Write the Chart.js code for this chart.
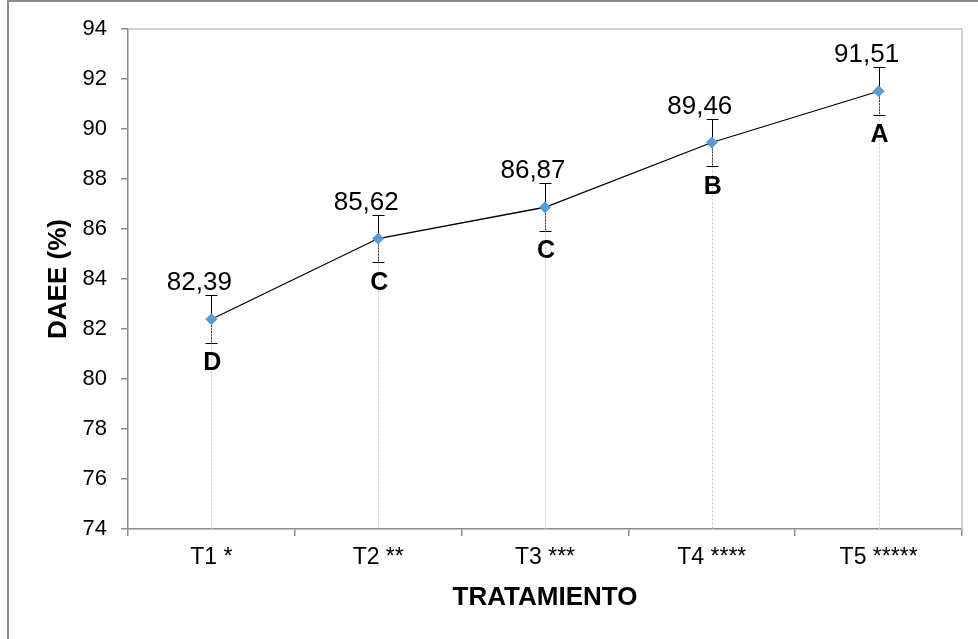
<!DOCTYPE html>
<html>
<head>
<meta charset="utf-8">
<script src="https://cdn.jsdelivr.net/npm/chart.js@4"></script>
<style>
html,body{margin:0;padding:0;background:#fff;}
#wrap{width:978px;height:639px;}
</style>
</head>
<body>
<div id="wrap"><canvas id="c" width="978" height="639"></canvas></div>
<script>
const categories = ["T1 *", "T2 **", "T3 ***", "T4 ****", "T5 *****"];
const values = [82.39, 85.62, 86.87, 89.46, 91.51];
const errors = [0.95, 0.95, 0.95, 0.95, 0.95];
const letters = ["D", "C", "C", "B", "A"];
const valueLabels = ["82,39", "85,62", "86,87", "89,46", "91,51"];
const yTicks = [74, 76, 78, 80, 82, 84, 86, 88, 90, 92, 94];

const FONT = "'Liberation Sans', Arial, sans-serif";

const refPlugin = {
  id: 'ref',
  beforeDraw(chart) {
    const {ctx, width, height} = chart;
    ctx.save();
    ctx.fillStyle = '#fff';
    ctx.fillRect(0, 0, width, height);
    ctx.strokeStyle = '#8c8c8c';
    ctx.lineWidth = 2;
    ctx.beginPath();
    ctx.moveTo(8, height);
    ctx.lineTo(8, 1);
    ctx.lineTo(width, 1);
    ctx.stroke();
    ctx.restore();
  },
  beforeDatasetsDraw(chart) {
    const {ctx, chartArea: a, scales: {x, y}} = chart;
    ctx.save();
    ctx.strokeStyle = '#c4c4c4';
    ctx.lineWidth = 1.5;
    ctx.beginPath();
    ctx.moveTo(a.left, a.top);
    ctx.lineTo(a.right, a.top);
    ctx.lineTo(a.right, a.bottom);
    ctx.stroke();
    ctx.setLineDash([2, 2]);
    ctx.strokeStyle = '#c8c8c8';
    ctx.lineWidth = 1;
    values.forEach((v, i) => {
      const px = Math.round(x.getPixelForValue(i)) + 0.5;
      ctx.beginPath();
      ctx.moveTo(px, y.getPixelForValue(v));
      ctx.lineTo(px, a.bottom);
      ctx.stroke();
    });
    values.forEach((v, i) => {
      const px = Math.round(x.getPixelForValue(i)) + 0.5;
      const yc = y.getPixelForValue(v);
      const yt = Math.round(y.getPixelForValue(v + errors[i])) + 0.5;
      const yb = Math.round(y.getPixelForValue(v - errors[i])) + 0.5;
      ctx.lineWidth = 1;
      ctx.strokeStyle = '#000';
      ctx.setLineDash([]);
      ctx.beginPath();
      ctx.moveTo(px, yt); ctx.lineTo(px, yc);
      ctx.moveTo(px - 6, yt); ctx.lineTo(px + 6, yt);
      ctx.moveTo(px - 6, yb); ctx.lineTo(px + 6, yb);
      ctx.stroke();
      ctx.setLineDash([2, 1]);
      ctx.strokeStyle = '#333';
      ctx.beginPath();
      ctx.moveTo(px, yc); ctx.lineTo(px, yb);
      ctx.stroke();
    });
    ctx.restore();
  },
  afterDatasetsDraw(chart) {
    const {ctx, scales: {x, y}} = chart;
    ctx.save();
    ctx.fillStyle = '#000';
    ctx.textBaseline = 'alphabetic';
    ctx.textAlign = 'center';
    values.forEach((v, i) => {
      const px = x.getPixelForValue(i);
      const py = y.getPixelForValue(v);
      ctx.font = "26px " + FONT;
      ctx.fillText(valueLabels[i], px - 12, py - 29);
      ctx.font = "bold 25px " + FONT;
      ctx.fillText(letters[i], px + 1, py + 51);
    });
    ctx.restore();
  }
};

new Chart(document.getElementById('c'), {
  type: 'line',
  data: {
    labels: categories,
    datasets: [{
      data: values,
      borderColor: '#000',
      borderWidth: 1.3,
      pointStyle: 'rectRot',
      pointRadius: 5.5,
      pointBackgroundColor: '#5b9bd5',
      pointBorderColor: '#5b9bd5',
      pointBorderWidth: 1,
      tension: 0,
      fill: false
    }]
  },
  options: {
    responsive: false,
    animation: false,
    devicePixelRatio: 1,
    layout: {padding: {top: 29, right: 16, left: 0, bottom: 0}},
    plugins: {legend: {display: false}, tooltip: {enabled: false}},
    scales: {
      x: {
        type: 'category',
        offset: true,
        grid: {offset: true, drawOnChartArea: false, drawTicks: true, tickLength: 7, color: '#8c8c8c', lineWidth: 1.5},
        border: {display: true, color: '#8c8c8c', width: 1.5},
        ticks: {color: '#000', font: {family: FONT, size: 23}, padding: 8, maxRotation: 0, autoSkip: false},
        title: {display: true, text: 'TRATAMIENTO', color: '#000', font: {family: FONT, size: 26, weight: 'bold'}, padding: {top: 0, bottom: 26}},
        afterFit(s) { s.height = 110; }
      },
      y: {
        min: 74, max: 94,
        afterBuildTicks(s) { s.ticks = yTicks.map(v => ({value: v})); },
        grid: {drawOnChartArea: false, drawTicks: true, tickLength: 7, color: '#8c8c8c', lineWidth: 1.5},
        border: {display: true, color: '#8c8c8c', width: 1.5},
        ticks: {color: '#000', font: {family: FONT, size: 22}, padding: 14, callback: v => String(v)},
        title: {display: true, text: 'DAEE (%)', color: '#000', font: {family: FONT, size: 26, weight: 'bold'}, padding: {top: 43, bottom: 0}},
        afterFit(s) { s.width = 128; }
      }
    }
  },
  plugins: [refPlugin]
});
</script>
</body>
</html>
